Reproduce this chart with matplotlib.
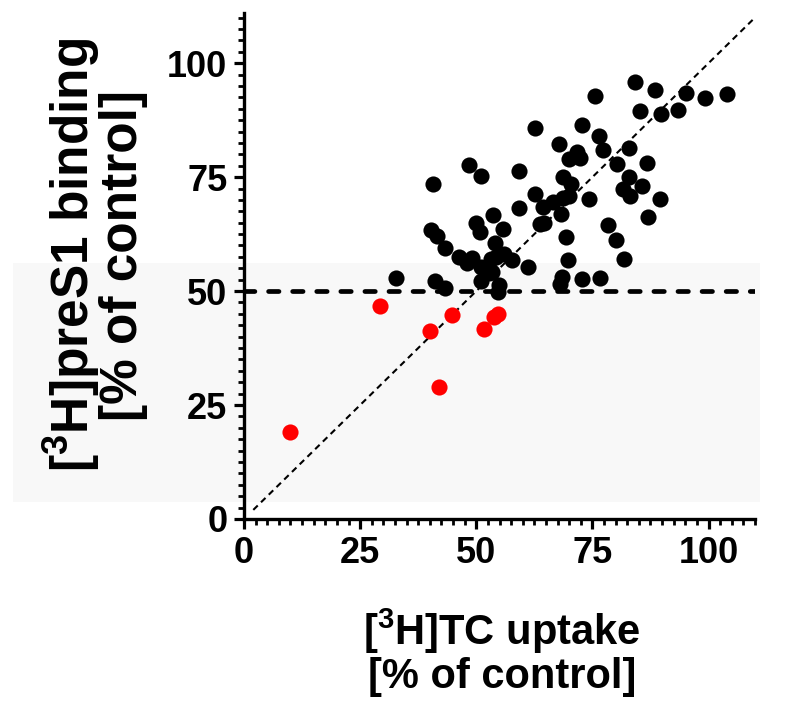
# -*- coding: utf-8 -*-
import numpy as np
import matplotlib
matplotlib.use('Agg')
import matplotlib.pyplot as plt
from matplotlib.patches import Rectangle
from matplotlib.ticker import MultipleLocator

plt.rcParams['font.family'] = ['Liberation Sans', 'DejaVu Sans']
plt.rcParams['font.weight'] = 'bold'
plt.rcParams['mathtext.fontset'] = 'custom'
plt.rcParams['mathtext.rm'] = 'Liberation Sans:bold'
plt.rcParams['mathtext.bf'] = 'Liberation Sans:bold'
plt.rcParams['mathtext.default'] = 'bf'

# pontos acima do limiar (pretos)
tc_preto = [84.2, 88.5, 75.6, 95.2, 99.2, 104.0, 85.2, 89.7, 93.5, 62.6,
            72.7, 76.5, 77.2, 67.9, 71.7, 70.0, 72.4, 82.8, 86.8, 80.3,
            48.4, 51.1, 59.2, 40.7, 68.6, 70.3, 82.8, 85.7, 81.6, 83.0,
            62.7, 66.5, 68.6, 70.0, 74.2, 89.6, 59.3, 64.3, 68.3, 53.6,
            49.9, 55.8, 50.8, 64.6, 63.8, 87.0, 40.3, 41.6, 54.0, 69.3,
            78.3, 80.0, 43.2, 46.3, 49.0, 48.1, 51.0, 53.1, 55.9, 57.6,
            53.3, 61.2, 69.7, 81.9, 32.7, 41.1, 43.2, 51.0, 54.9, 54.6,
            68.4, 68.0, 72.7, 76.7, 52.8, 52.1, 54.2]
pres1_preto = [95.8, 94.2, 92.8, 93.4, 92.4, 93.3, 89.5, 88.8, 89.8, 85.7,
               86.4, 84.0, 80.9, 82.2, 80.5, 78.9, 79.1, 81.3, 78.2, 77.9,
               77.6, 75.2, 76.4, 73.5, 75.1, 73.5, 75.1, 73.0, 72.3, 70.8,
               71.3, 69.6, 70.5, 70.8, 70.3, 70.1, 68.2, 68.5, 67.0, 66.7,
               65.0, 63.7, 63.0, 65.0, 64.7, 66.2, 63.4, 62.1, 60.5, 61.9,
               64.5, 61.1, 59.4, 57.5, 57.3, 56.2, 55.3, 57.0, 58.1, 56.9,
               54.2, 55.3, 56.9, 57.1, 52.9, 52.3, 50.7, 52.2, 51.3, 49.8,
               53.0, 51.5, 52.6, 52.8, 53.9, 55.0, 57.5]

# pontos abaixo do limiar (vermelhos)
tc_verm = [29.2, 44.8, 40.0, 51.6, 54.6, 53.8, 42.0, 9.9]
pres1_verm = [46.7, 44.7, 41.2, 41.7, 44.9, 44.4, 29.0, 19.1]

limiar = 50
diag = [2, 110]
ticks = [0, 25, 50, 75, 100]

fig = plt.figure(figsize=(7.89, 7.02), dpi=100)

# faixa cinza de fundo
fig.patches.append(Rectangle((13/789., 1-502/702.), (760-13)/789., (502-263)/702.,
                             transform=fig.transFigure, facecolor='#f8f8f8',
                             edgecolor='none', zorder=-10))

ax = fig.add_axes([244/789., 1-519/702., 511/789., 506/702.])
ax.patch.set_alpha(0)

ax.plot(diag, diag, color='black', lw=1.5, dashes=(3, 2.2), zorder=2)
ax.plot([0, 110], [limiar, limiar], color='black', lw=3.4, dashes=(2.2, 2.9),
        dash_capstyle='round', zorder=2)
ax.scatter(tc_preto, pres1_preto, s=135, color='black', linewidths=0, zorder=3)
ax.scatter(tc_verm, pres1_verm, s=135, color='red', linewidths=0, zorder=3)

ax.set_xlim(0, 110)
ax.set_ylim(0, 111)
ax.set_xticks(ticks)
ax.set_yticks(ticks)
ax.xaxis.set_minor_locator(MultipleLocator(2.5))
ax.yaxis.set_minor_locator(MultipleLocator(2.5))
for s in ['top', 'right']:
    ax.spines[s].set_visible(False)
for s in ['left', 'bottom']:
    ax.spines[s].set_linewidth(2.4)
ax.tick_params(which='major', length=7, width=2.3, labelsize=26, pad=5)
ax.tick_params(which='minor', length=4, width=2.0)

fig.text(95/789., 1-255/702., '[$^3$H]preS1 binding\n[% of control]', rotation=90,
         ha='center', va='center', fontsize=37, fontweight='bold', linespacing=0.92,
         multialignment='center')
fig.text(502/789., 1-652/702., '[$^3$H]TC uptake\n[% of control]',
         ha='center', va='center', fontsize=30, fontweight='bold', linespacing=1.05,
         multialignment='center')

fig.savefig('out.png', dpi=100)
